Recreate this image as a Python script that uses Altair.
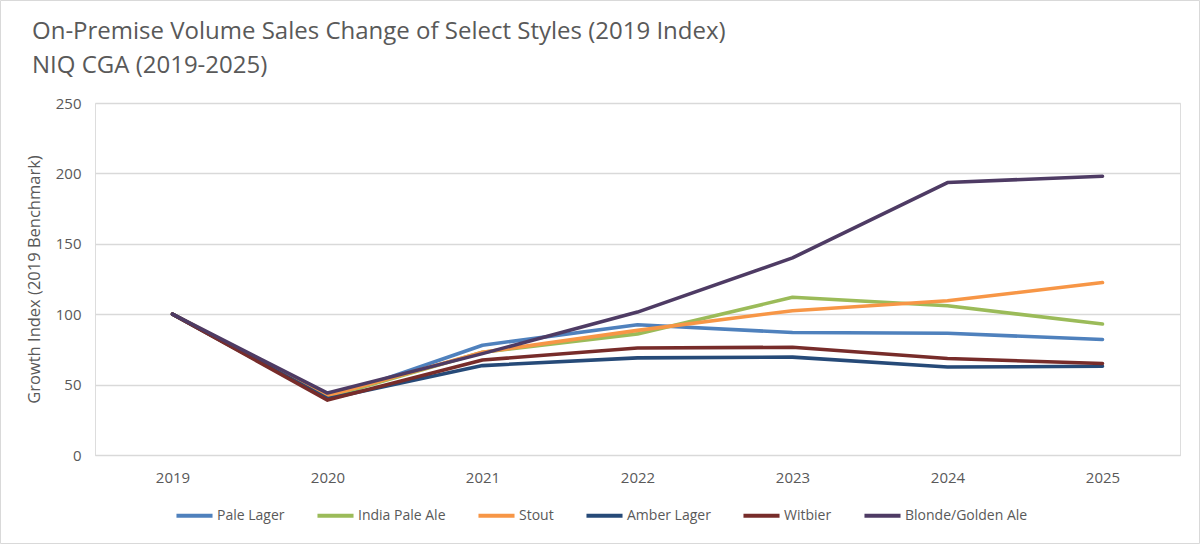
import altair as alt
import pandas as pd

years = ["2019", "2020", "2021", "2022", "2023", "2024", "2025"]
series_names = ["Pale Lager", "India Pale Ale", "Stout", "Amber Lager", "Witbier", "Blonde/Golden Ale"]
pale_lager = [100, 40, 78, 92.5, 87, 86.5, 82]
india_pale_ale = [100, 41, 73, 86, 112, 106, 93]
stout = [100, 42, 73, 88.5, 102.5, 109.5, 122.5]
amber_lager = [100, 40, 63.5, 69, 69.5, 62.5, 63]
witbier = [100, 39, 67.5, 76, 76.5, 68.5, 65]
blonde = [100, 44, 72, 101.5, 140, 193.5, 198]
colors = ["#4f81bd", "#9bbb59", "#f79646", "#264a78", "#772c2a", "#4e3b64"]
title_lines = ["On-Premise Volume Sales Change of Select Styles (2019 Index)", "NIQ CGA (2019-2025)"]

all_vals = [pale_lager, india_pale_ale, stout, amber_lager, witbier, blonde]
rows = []
for si, (name, vals) in enumerate(zip(series_names, all_vals)):
    for y, v in zip(years, vals):
        rows.append({"Year": y, "Style": name, "Value": v, "order": si})
df = pd.DataFrame(rows)

FONT = "Open Sans"
GRAY = "#595959"

lines = alt.Chart(df).mark_line(strokeWidth=3.6, strokeCap="round", strokeJoin="round").encode(
    x=alt.X("Year:O", scale=alt.Scale(type="point", padding=0.5), sort=years,
            axis=alt.Axis(title=None, labelAngle=0, ticks=False, domain=True, domainColor="#d9d9d9",
                          labelColor=GRAY, labelFontSize=15, labelFont=FONT, labelPadding=15)),
    y=alt.Y("Value:Q", scale=alt.Scale(domain=[0, 250], nice=False),
            axis=alt.Axis(title="Growth Index (2019 Benchmark)", values=[0, 50, 100, 150, 200, 250],
                          ticks=False, domain=False, gridColor="#d9d9d9", gridWidth=1.3,
                          labelColor=GRAY, labelFontSize=15, labelFont=FONT, labelPadding=14,
                          titleColor=GRAY, titleFontSize=16.5, titleFont=FONT, titleFontWeight="normal",
                          titlePadding=13)),
    color=alt.Color("Style:N", sort=series_names,
                    scale=alt.Scale(domain=series_names, range=colors),
                    legend=alt.Legend(title=None, orient="none", direction="horizontal",
                                      legendX=79, legendY=392, symbolType="stroke",
                                      symbolStrokeWidth=4, symbolSize=1300, labelFontSize=14,
                                      labelFont=FONT, labelColor=GRAY, columnPadding=24,
                                      labelOffset=2)),
    order=alt.Order("order:Q"),
    detail="Style:N",
)

title_df = pd.DataFrame({"t": title_lines, "line": [0, 1]})
title1 = alt.Chart(title_df).transform_filter("datum.line == 0").mark_text(
    align="left", baseline="middle", fontSize=24, font=FONT, color=GRAY
).encode(text="t:N", x=alt.value(-63), y=alt.value(-71))
title2 = alt.Chart(title_df).transform_filter("datum.line == 1").mark_text(
    align="left", baseline="middle", fontSize=24, font=FONT, color=GRAY
).encode(text="t:N", x=alt.value(-63), y=alt.value(-37))

border = alt.Chart(pd.DataFrame({"a": [0]})).mark_rect(fill=None, stroke="#d9d9d9", strokeWidth=1).encode(
    x=alt.value(-94.5), x2=alt.value(1104.5), y=alt.value(-102.5), y2=alt.value(440.5)
)

chart = alt.layer(lines, title1, title2, border).properties(
    width=1085,
    height=352,
    autosize=alt.AutoSizeParams(type="none"),
    padding={"left": 95, "top": 103, "right": 20, "bottom": 89},
).configure_view(stroke=None).configure(background="white")

chart.save("out.html", embed_options={"renderer": "svg", "actions": False})
